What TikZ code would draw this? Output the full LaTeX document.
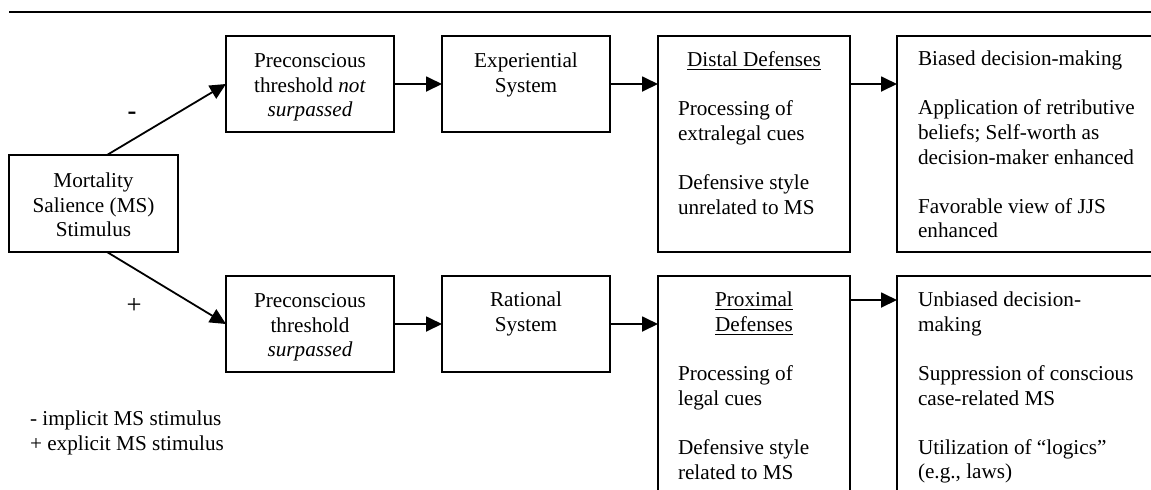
\documentclass[tikz,border=0pt]{standalone}
\usepackage{fontspec}
\setmainfont{Liberation Serif}
\usetikzlibrary{arrows.meta,calc}
\begin{document}
\begin{tikzpicture}[x=0.5pt,y=-0.5pt,
  box/.style={draw,line width=1pt,inner sep=0pt,outer sep=0pt},
  smallbox/.style={box,minimum width=84pt,minimum height=48pt},
  txt/.style={inner sep=0pt,outer sep=0pt,font=\fontsize{10.6pt}{12.3pt}\selectfont},
  ctxt/.style={txt,align=center,anchor=north},
  ltxt/.style={txt,align=left,anchor=north west},
  arr/.style={line width=0.9pt,-{Triangle[length=8pt,width=7.5pt]}},
  sign/.style={inner sep=0pt,font=\fontsize{13.3pt}{14pt}\selectfont}]
\useasboundingbox (0,0) rectangle (1151,489);
\clip (0,0) rectangle (1151,489);
\fill[white] (0,0) rectangle (1151,489);

% rule above the figure
\draw[line width=1pt] (9,12) -- (1151,12);

% boxes
\node[box,minimum width=84.5pt,minimum height=48.5pt] (ms) at (93.5,203.5) {};
\node[smallbox] (pA) at (310,84) {};
\node[smallbox] (exp) at (526,84) {};
\node[box,minimum width=96pt,minimum height=108pt] (dist) at (754,144) {};
\node[box,minimum width=139pt,minimum height=108pt] (outA) at (1036,144) {};
\node[smallbox] (pB) at (310,324) {};
\node[smallbox] (rat) at (526,324) {};
\node[box,minimum width=96pt,minimum height=122pt] (prox) at (754,398) {};
\node[box,minimum width=139pt,minimum height=122pt] (outB) at (1036,398) {};

% box texts
\node[ctxt] (msT) at (93.5,170.5) {\strut Mortality\\Salience (MS)\\Stimulus};
\node[ctxt] (pAT) at (310,50.5) {\strut Preconscious\\threshold \textit{not}\\\textit{surpassed}};
\node[ctxt] (expT) at (526,50.5) {\strut Experiential\\System};
\node[ctxt] (distH) at (754,49.5) {\strut\underline{Distal Defenses}};
\node[ltxt] (distT) at (678,98.5) {\strut Processing of\\extralegal cues\\[12.3pt]Defensive style\\unrelated to MS};
\node[ltxt] (outAT) at (918,48.5) {\strut Biased decision-making\\[12.3pt]Application of retributive\\beliefs; Self-worth as\\decision-maker enhanced\\[12.3pt]Favorable view of JJS\\enhanced};
\node[ctxt] (pBT) at (310,290.5) {\strut Preconscious\\threshold\\\textit{surpassed}};
\node[ctxt] (ratT) at (526,289.5) {\strut Rational\\System};
\node[ctxt] (proxH) at (754,289.5) {\strut\underline{Proximal}\\\underline{Defenses}};
\node[ltxt] (proxT) at (678,363.5) {\strut Processing of\\legal cues\\[12.3pt]Defensive style\\related to MS};
\node[ltxt] (outBT) at (918,289.5) {\strut Unbiased decision-\\making\\[12.3pt]Suppression of conscious\\case-related MS\\[12.3pt]Utilization of “logics”\\(e.g., laws)};

% legend and path signs
\node[ltxt] (legend) at (30,408.5) {\strut - implicit MS stimulus\\+ explicit MS stimulus};
\node[sign] (minus) at (132,116) {\textbf{-}};
\node[sign] (plus) at (134,306) {+};

% connectors
\draw[arr] ([xshift=6.75pt]ms.north) -- (pA.west);
\draw[arr] ([xshift=6.75pt]ms.south) -- (pB.west);
\draw[arr] (pA.east) -- (exp.west);
\draw[arr] (pB.east) -- (rat.west);
\draw[arr] (exp.east) -- (exp.east -| dist.west);
\draw[arr] (rat.east) -- (rat.east -| prox.west);
\coordinate (dOut) at (dist.east |- exp.east);
\draw[arr] (dOut) -- (dOut -| outA.west);
\coordinate (pOut) at ([yshift=-12pt]prox.north east);
\draw[arr] (pOut) -- (pOut -| outB.west);
\end{tikzpicture}
\end{document}
